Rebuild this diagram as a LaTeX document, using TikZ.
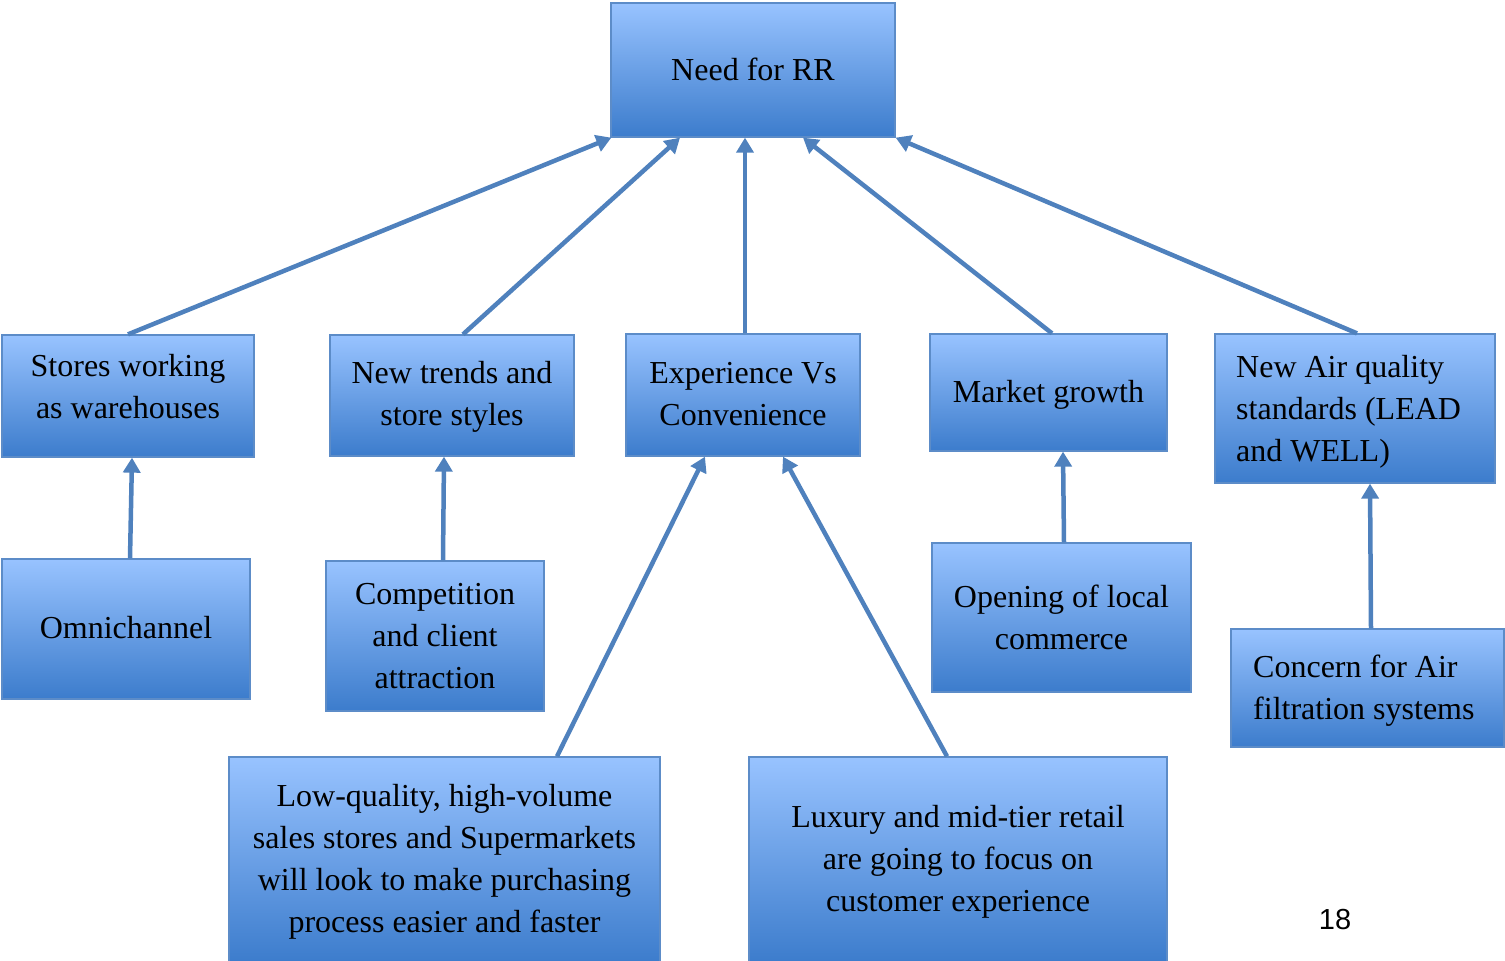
\documentclass[tikz,border=0pt]{standalone}
\usepackage{fontspec}
\setmainfont{Liberation Serif}
\newfontfamily\numfont{Liberation Sans}
\usetikzlibrary{arrows.meta}

\definecolor{boxtop}{RGB}{152,195,255}
\definecolor{boxmid}{RGB}{118,166,236}
\definecolor{boxbot}{RGB}{60,124,204}
\definecolor{boxline}{RGB}{92,140,200}
\definecolor{arrowblue}{RGB}{79,129,189}

\tikzset{
  box/.style={rectangle, draw=boxline, line width=1.3pt,
    top color=boxtop, middle color=boxmid, bottom color=boxbot,
    inner sep=0pt},
  txt/.style={inner sep=0pt, align=center, text=black,
    font=\fontsize{32}{42}\selectfont},
  txtleft/.style={txt, align=left},
  link/.style={draw=arrowblue, line width=4.5pt,
    -{Triangle[length=15pt,width=17pt]}, shorten <=0pt}
}

\begin{document}
\begin{tikzpicture}[x=1pt, y=-1pt]
\useasboundingbox (0,0) rectangle (1505,961);

% top level
\node[box, minimum width=284, minimum height=134] (rr) at (753,70) {};
\node[txt] (rrt) at (753,69) {Need for RR};

% second row
\node[box, minimum width=252, minimum height=122] (st) at (128,396) {};
\node[txt] (stt) at (128,387) {Stores working\\as warehouses};

\node[box, minimum width=244, minimum height=121] (nt) at (452,395.5) {};
\node[txt] (ntt) at (452,397) {New trends and\\store styles};

\node[box, minimum width=234, minimum height=122] (ev) at (743,395) {};
\node[txt] (evt) at (743,394) {Experience Vs\\Convenience};

\node[box, minimum width=237, minimum height=117] (mg) at (1048.5,392.5) {};
\node[txt] (mgt) at (1048.5,395) {Market growth};

\node[box, minimum width=280, minimum height=149] (aq) at (1355,408.5) {};
\node[txtleft, anchor=west] (aqt) at (1236,412) {New Air quality\\standards (LEAD\\and WELL)};

% third row
\node[box, minimum width=248, minimum height=140] (om) at (126,629) {};
\node[txt] (omt) at (126,628) {Omnichannel};

\node[box, minimum width=218, minimum height=150] (cc) at (435,636) {};
\node[txt] (cct) at (435,636) {Competition\\and client\\attraction};

\node[box, minimum width=259, minimum height=149] (lc) at (1061.5,617.5) {};
\node[txt] (lct) at (1061.5,617) {Opening of local\\commerce};

\node[box, minimum width=273, minimum height=118] (af) at (1367.5,688) {};
\node[txtleft, anchor=west] (aft) at (1253,691) {Concern for Air\\filtration systems};

% bottom row
\node[box, minimum width=431, minimum height=206] (lq) at (444.5,860) {};
\node[txt] (lqt) at (444.5,862) {Low-quality, high-volume\\sales stores and Supermarkets\\will look to make purchasing\\process easier and faster};

\node[box, minimum width=418, minimum height=206] (lx) at (958,860) {};
\node[txt] (lxt) at (958,862) {Luxury and mid-tier retail\\are going to focus on\\customer experience};

% page number
\node[inner sep=0pt, font=\numfont\fontsize{29}{34}\selectfont] (pg) at (1335,920) {18};

% connectors into the top box
\draw[link] (st.north) -- ([xshift=1pt]rr.south west);
\draw[link] ([xshift=11pt]nt.north) -- ([xshift=-73pt]rr.south);
\draw[link] ([xshift=2pt]ev.north) -- ([xshift=-8pt]rr.south);
\draw[link] ([xshift=3.5pt]mg.north) -- ([xshift=50pt]rr.south);
\draw[link] ([xshift=2pt]aq.north) -- (rr.south east);

% connectors into the second row
\draw[link] ([xshift=4pt]om.north) -- ([xshift=4pt]st.south);
\draw[link] ([xshift=8pt]cc.north) -- ([xshift=-8pt]nt.south);
\draw[link] ([xshift=112.5pt]lq.north) -- ([xshift=-38pt]ev.south);
\draw[link] ([xshift=-11pt]lx.north) -- ([xshift=40pt]ev.south);
\draw[link] ([xshift=2.5pt]lc.north) -- ([xshift=14.5pt]mg.south);
\draw[link] ([xshift=3.5pt]af.north) -- ([xshift=15pt]aq.south);
\end{tikzpicture}
\end{document}
